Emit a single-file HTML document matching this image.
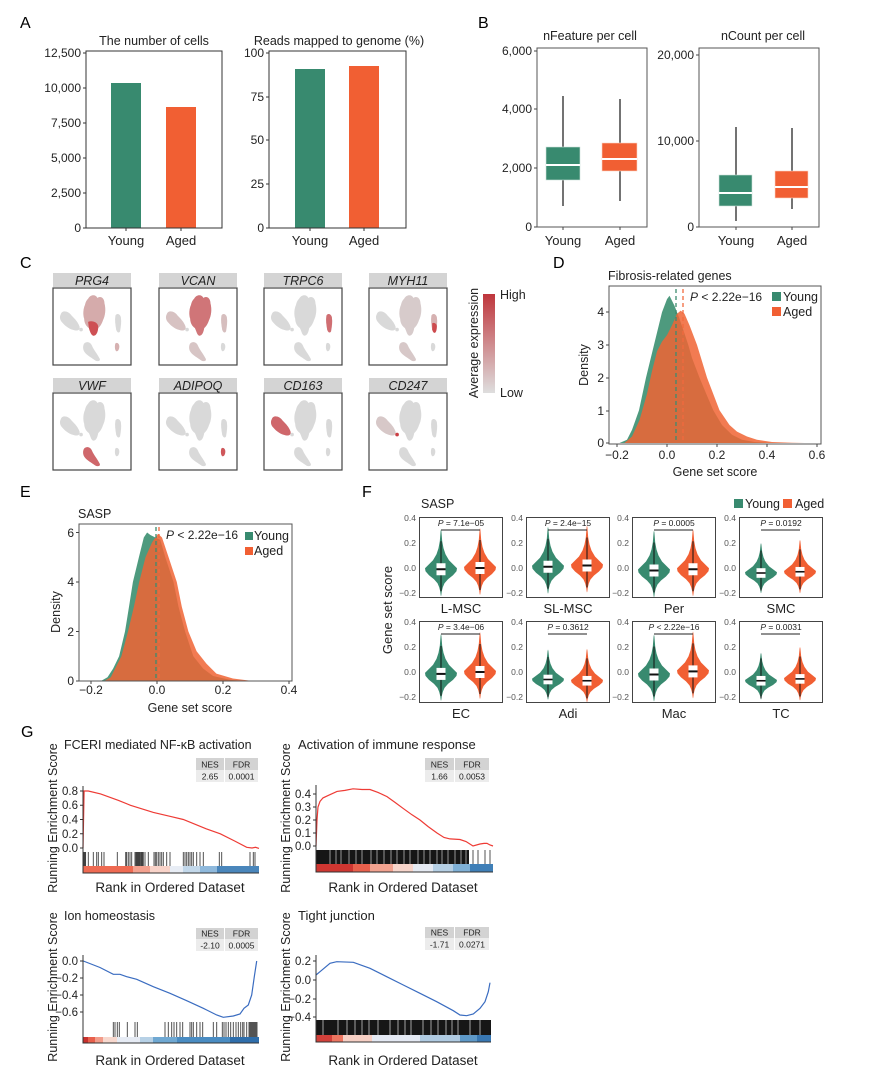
<!DOCTYPE html>
<html><head><meta charset="utf-8"><style>
html,body{margin:0;padding:0;background:#fff;}
svg{display:block;font-family:"Liberation Sans",Arial,sans-serif;}
</style></head><body>
<svg width="869" height="1088" viewBox="0 0 869 1088" xmlns="http://www.w3.org/2000/svg">
<defs>
<path id="cBig" d="M45,14 C48,8 55,8 57,13 C60,10 66,12 66,20 C68,28 67,36 64,42 C62,48 60,50 58,52 C57,58 55,62 52,62 C49,62 48,56 46,52 C43,50 40,46 40,40 C38,34 39,26 41,22 C42,18 43,16 45,14 Z"/>
<path id="cBigLow" d="M45,44 C50,42 57,44 58,50 C58,56 56,62 52,62 C49,62 47,56 46,52 Z"/>
<path id="cLeft" d="M10,34 C12,28 20,30 24,36 C28,40 32,44 34,50 C35,54 32,56 28,55 C22,54 16,50 12,45 C9,42 8,38 10,34 Z"/>
<circle id="cBlob" cx="36" cy="54" r="2.3"/>
<path id="cRight" d="M80,36 C82,32 86,34 87,38 C88,44 87,50 86,56 C85,59 82,58 81,54 C80,48 79,42 80,36 Z"/>
<path id="cRightLow" d="M81,46 C83,44 87,46 87,50 C87,54 86,57 85,58 C83,59 82,57 81,54 Z"/>
<path id="cBot" d="M40,72 C43,69 48,70 50,75 C52,80 57,86 60,92 C61,95 57,96 54,94 C50,91 44,88 41,84 C38,80 38,75 40,72 Z"/>
<path id="cBR" d="M80,72 C82,70 85,72 85,76 C85,80 83,83 81,82 C79,80 79,75 80,72 Z"/>
<g id="umap" fill="#d9d9d9"><use href="#cBig"/><use href="#cLeft"/><use href="#cBlob"/><use href="#cRight"/><use href="#cBot"/><use href="#cBR"/></g>
<linearGradient id="cbar" x1="0" y1="0" x2="0" y2="1"><stop offset="0" stop-color="#bf363c"/><stop offset="1" stop-color="#dedede"/></linearGradient>
<path id="vio" d="M0,-40 L0.4,-38 L1.2,-28 L2.5,-21 L4.5,-15 L8,-9 L12,-5 L16,-1 L15.5,2 L12,6 L7,10 L3.5,14 L1.8,18 L0.8,22 L0.3,26 L0,27 L-0.3,26 L-0.8,22 L-1.8,18 L-3.5,14 L-7,10 L-12,6 L-15.5,2 L-16,-1 L-12,-5 L-8,-9 L-4.5,-15 L-2.5,-21 L-1.2,-28 L-0.4,-38 Z"/>
<g id="bx"><line x1="0" y1="-28" x2="0" y2="22" stroke="#111" stroke-width="1"/><rect x="-4.5" y="-6" width="9" height="12" fill="#fff"/><line x1="-4.5" y1="0" x2="4.5" y2="0" stroke="#111" stroke-width="2"/></g>
</defs>

<!-- ================= A ================= -->
<text x="20" y="28" font-size="16">A</text>
<text x="154" y="45" font-size="12.5" text-anchor="middle" fill="#222">The number of cells</text>
<rect x="111" y="83" width="30" height="145" fill="#388a6f"/>
<rect x="166" y="107" width="30" height="121" fill="#f15f33"/>
<rect x="86" y="51" width="136" height="177" fill="none" stroke="#333"/>
<path d="M83,53H86M83,88H86M83,123H86M83,158H86M83,193H86M83,228H86M126,228V231M181,228V231" stroke="#333"/>
<g font-size="12" text-anchor="end" fill="#222">
<text x="81" y="57">12,500</text><text x="81" y="92">10,000</text><text x="81" y="127">7,500</text><text x="81" y="162">5,000</text><text x="81" y="197">2,500</text><text x="81" y="232">0</text>
</g>
<g font-size="13" text-anchor="middle" fill="#222"><text x="126" y="245">Young</text><text x="181" y="245">Aged</text></g>

<text x="339" y="45" font-size="12.5" text-anchor="middle" fill="#222">Reads mapped to genome (%)</text>
<rect x="295" y="69" width="30" height="159" fill="#388a6f"/>
<rect x="349" y="66" width="30" height="162" fill="#f15f33"/>
<rect x="269" y="51" width="137" height="177" fill="none" stroke="#333"/>
<path d="M266,53H269M266,97H269M266,140H269M266,184H269M266,228H269M310,228V231M364,228V231" stroke="#333"/>
<g font-size="12" text-anchor="end" fill="#222">
<text x="264" y="57">100</text><text x="264" y="101">75</text><text x="264" y="144">50</text><text x="264" y="188">25</text><text x="264" y="232">0</text>
</g>
<g font-size="13" text-anchor="middle" fill="#222"><text x="310" y="245">Young</text><text x="364" y="245">Aged</text></g>

<!-- ================= B ================= -->
<text x="478" y="28" font-size="16">B</text>
<text x="590" y="40" font-size="12.5" text-anchor="middle" fill="#222">nFeature per cell</text>
<line x1="563" y1="96" x2="563" y2="206" stroke="#444" stroke-width="1.5"/>
<rect x="546" y="147" width="34" height="33" fill="#388a6f" stroke="#cfe3da" stroke-width="0.6"/>
<line x1="546" y1="165" x2="580" y2="165" stroke="#fff" stroke-width="2"/>
<line x1="620" y1="99" x2="620" y2="201" stroke="#444" stroke-width="1.5"/>
<rect x="602" y="143" width="35" height="28" fill="#f15f33" stroke="#fbd3c4" stroke-width="0.6"/>
<line x1="602" y1="159" x2="637" y2="159" stroke="#fff" stroke-width="2"/>
<rect x="537" y="48" width="110" height="179" fill="none" stroke="#555"/>
<path d="M534,51H537M534,109H537M534,168H537M534,227H537M563,227V230M620,227V230" stroke="#444"/>
<g font-size="12" text-anchor="end" fill="#222">
<text x="532" y="55">6,000</text><text x="532" y="113">4,000</text><text x="532" y="172">2,000</text><text x="532" y="231">0</text>
</g>
<g font-size="13" text-anchor="middle" fill="#222"><text x="563" y="245">Young</text><text x="620" y="245">Aged</text></g>

<text x="763" y="40" font-size="12.5" text-anchor="middle" fill="#222">nCount per cell</text>
<line x1="736" y1="127" x2="736" y2="221" stroke="#444" stroke-width="1.5"/>
<rect x="719" y="175" width="33" height="31" fill="#388a6f" stroke="#cfe3da" stroke-width="0.6"/>
<line x1="719" y1="193" x2="752" y2="193" stroke="#fff" stroke-width="2"/>
<line x1="792" y1="128" x2="792" y2="209" stroke="#444" stroke-width="1.5"/>
<rect x="775" y="171" width="33" height="27" fill="#f15f33" stroke="#fbd3c4" stroke-width="0.6"/>
<line x1="775" y1="187" x2="808" y2="187" stroke="#fff" stroke-width="2"/>
<rect x="699" y="48" width="120" height="179" fill="none" stroke="#555"/>
<path d="M696,55H699M696,141H699M696,227H699M736,227V230M792,227V230" stroke="#444"/>
<g font-size="12" text-anchor="end" fill="#222">
<text x="694" y="59">20,000</text><text x="694" y="145">10,000</text><text x="694" y="231">0</text>
</g>
<g font-size="13" text-anchor="middle" fill="#222"><text x="736" y="245">Young</text><text x="792" y="245">Aged</text></g>

<!-- ================= C ================= -->
<text x="20" y="268" font-size="16">C</text>
<g fill="#d4d4d4">
<rect x="53" y="273" width="78" height="14"/><rect x="159" y="273" width="78" height="14"/><rect x="264" y="273" width="78" height="14"/><rect x="369" y="273" width="78" height="14"/>
<rect x="53" y="378" width="78" height="14"/><rect x="159" y="378" width="78" height="14"/><rect x="264" y="378" width="78" height="14"/><rect x="369" y="378" width="78" height="14"/>
</g>
<g font-size="12.5" font-style="italic" text-anchor="middle" fill="#222">
<text x="92" y="285">PRG4</text><text x="198" y="285">VCAN</text><text x="303" y="285">TRPC6</text><text x="408" y="285">MYH11</text>
<text x="92" y="390">VWF</text><text x="198" y="390">ADIPOQ</text><text x="303" y="390">CD163</text><text x="408" y="390">CD247</text>
</g>
<!-- PRG4 -->
<g transform="translate(53,288) scale(0.78,0.77)"><use href="#umap"/>
<use href="#cBig" fill="#cf5656" fill-opacity="0.35"/><use href="#cBigLow" fill="#cc3f44" fill-opacity="0.85"/><use href="#cBR" fill="#cf5656" fill-opacity="0.3"/></g>
<!-- VCAN -->
<g transform="translate(159,288) scale(0.78,0.77)"><use href="#umap"/>
<use href="#cBig" fill="#cc4a4f" fill-opacity="0.7"/><use href="#cLeft" fill="#cf5656" fill-opacity="0.18"/><use href="#cBot" fill="#cf5656" fill-opacity="0.15"/><use href="#cRight" fill="#cf5656" fill-opacity="0.2"/></g>
<!-- TRPC6 -->
<g transform="translate(264,288) scale(0.78,0.77)"><use href="#umap"/>
<use href="#cRight" fill="#cc4a4f" fill-opacity="0.75"/></g>
<!-- MYH11 -->
<g transform="translate(369,288) scale(0.78,0.77)"><use href="#umap"/>
<use href="#cBig" fill="#cf5656" fill-opacity="0.1"/><use href="#cRight" fill="#cf5656" fill-opacity="0.3"/><use href="#cRightLow" fill="#cc3f44" fill-opacity="0.9"/><use href="#cBot" fill="#cf5656" fill-opacity="0.12"/></g>
<!-- VWF -->
<g transform="translate(53,393) scale(0.78,0.77)"><use href="#umap"/>
<use href="#cBot" fill="#cc4a4f" fill-opacity="0.8"/></g>
<!-- ADIPOQ -->
<g transform="translate(159,393) scale(0.78,0.77)"><use href="#umap"/>
<use href="#cBR" fill="#cc3f44" fill-opacity="0.85"/></g>
<!-- CD163 -->
<g transform="translate(264,393) scale(0.78,0.77)"><use href="#umap"/>
<use href="#cLeft" fill="#cc4a4f" fill-opacity="0.8"/></g>
<!-- CD247 -->
<g transform="translate(369,393) scale(0.78,0.77)"><use href="#umap"/>
<use href="#cLeft" fill="#cf5656" fill-opacity="0.12"/><use href="#cBlob" fill="#cc3f44"/></g>
<g fill="none" stroke="#444" stroke-width="1.2">
<rect x="53" y="288" width="78" height="77"/><rect x="159" y="288" width="78" height="77"/><rect x="264" y="288" width="78" height="77"/><rect x="369" y="288" width="78" height="77"/>
<rect x="53" y="393" width="78" height="77"/><rect x="159" y="393" width="78" height="77"/><rect x="264" y="393" width="78" height="77"/><rect x="369" y="393" width="78" height="77"/>
</g>
<rect x="483" y="294" width="12" height="99" fill="url(#cbar)"/>
<text x="500" y="299" font-size="12.5" fill="#222">High</text>
<text x="500" y="397" font-size="12.5" fill="#222">Low</text>
<text transform="translate(478,343) rotate(-90)" font-size="12.5" text-anchor="middle" fill="#222">Average expression</text>

<!-- ================= D ================= -->
<text x="553" y="268" font-size="16">D</text>
<text x="608" y="280" font-size="12.5" fill="#222">Fibrosis-related genes</text>
<path d="M619.5,443 L627,439.7 L632,429.9 L639,410.3 L646,377.6 L654,344.9 L662,312.2 L667,299.1 L669.5,295.8 L674.5,305.7 L679.5,318.7 L684.5,333.5 L688.25,344.9 L692,358 L699.5,377.6 L707,395.6 L713.25,410.3 L722,425 L732,434.8 L742,439.7 L754.5,442 L772,443 Z" fill="#4e9a7e"/>
<path d="M624.5,443 L632,436.5 L639.5,420.1 L647,393.9 L652,371.1 L657,351.4 L662,341.6 L667,335.1 L672,325.3 L677,313.8 L680.75,310.6 L684.5,313.8 L689.5,325.3 L697,344.9 L707,377.6 L719.5,410.3 L729.5,425 L737,431.6 L747,436.5 L757,439.7 L772,442 L792,442.7 L804.5,443 Z" fill="#f06434" fill-opacity="0.85"/>
<line x1="683" y1="289" x2="683" y2="443" stroke="#f26a3e" stroke-width="1.3" stroke-dasharray="4,3"/>
<line x1="676" y1="289" x2="676" y2="443" stroke="#3d8b6e" stroke-width="1.3" stroke-dasharray="4,3"/>
<rect x="609" y="286" width="212" height="158" fill="none" stroke="#555"/>
<path d="M606,443H609M606,411H609M606,378H609M606,345H609M606,312H609M617,444V447M667,444V447M717,444V447M767,444V447M817,444V447" stroke="#444"/>
<g font-size="12" text-anchor="end" fill="#222">
<text x="604" y="447">0</text><text x="604" y="415">1</text><text x="604" y="382">2</text><text x="604" y="349">3</text><text x="604" y="316">4</text>
</g>
<g font-size="12" text-anchor="middle" fill="#222">
<text x="617" y="459">−0.2</text><text x="667" y="459">0.0</text><text x="717" y="459">0.2</text><text x="767" y="459">0.4</text><text x="817" y="459">0.6</text>
</g>
<text x="715" y="476" font-size="12.5" text-anchor="middle" fill="#222">Gene set score</text>
<text transform="translate(588,365) rotate(-90)" font-size="12.5" text-anchor="middle" fill="#222">Density</text>
<text x="690" y="301" font-size="12" fill="#222"><tspan font-style="italic">P</tspan> &lt; 2.22e−16</text>
<rect x="772" y="292" width="9" height="9" fill="#388a6f"/><text x="783" y="301" font-size="12.5" fill="#222">Young</text>
<rect x="772" y="307" width="9" height="9" fill="#f15f33"/><text x="783" y="316" font-size="12.5" fill="#222">Aged</text>

<!-- ================= E ================= -->
<text x="20" y="497" font-size="16">E</text>
<text x="78" y="518" font-size="12.5" fill="#222">SASP</text>
<path d="M100.9,681 L107.5,677.3 L113.1,668.6 L119.1,656.3 L125,631.5 L129,606.8 L132.9,582 L138.9,557.3 L143.8,537.5 L147.1,532.5 L150.4,535 L155.4,537.5 L160.3,539.9 L165.3,557.3 L173.5,582 L178.5,606.8 L185.1,631.5 L193.3,656.3 L203.2,668.6 L213.1,676 L229.6,679.8 L242.8,681 Z" fill="#4e9a7e"/>
<path d="M104.2,681 L110.8,677.3 L115.1,668.6 L121.4,656.3 L128,631.5 L133.9,606.8 L139.2,582 L145.5,557.3 L152.1,542.4 L158,533.7 L162,537.5 L168.6,557.3 L176.8,582 L181.8,606.8 L188.4,631.5 L196.6,651.3 L206.5,663.7 L216.4,673.6 L232.9,678.5 L252.7,681 Z" fill="#f06434" fill-opacity="0.85"/>
<line x1="159" y1="527" x2="159" y2="681" stroke="#f26a3e" stroke-width="1.3" stroke-dasharray="4,3"/>
<line x1="156" y1="527" x2="156" y2="681" stroke="#3d8b6e" stroke-width="1.3" stroke-dasharray="4,3"/>
<rect x="79" y="524" width="213" height="157" fill="none" stroke="#555"/>
<path d="M76,681H79M76,631.5H79M76,582H79M76,532.5H79M91,681V684M157,681V684M223,681V684M289,681V684" stroke="#444"/>
<g font-size="12" text-anchor="end" fill="#222">
<text x="74" y="685">0</text><text x="74" y="636">2</text><text x="74" y="586">4</text><text x="74" y="537">6</text>
</g>
<g font-size="12" text-anchor="middle" fill="#222">
<text x="91" y="694">−0.2</text><text x="157" y="694">0.0</text><text x="223" y="694">0.2</text><text x="289" y="694">0.4</text>
</g>
<text x="190" y="712" font-size="12.5" text-anchor="middle" fill="#222">Gene set score</text>
<text transform="translate(60,612) rotate(-90)" font-size="12.5" text-anchor="middle" fill="#222">Density</text>
<text x="166" y="539" font-size="12" fill="#222"><tspan font-style="italic">P</tspan> &lt; 2.22e−16</text>
<rect x="245" y="532" width="8" height="8" fill="#388a6f"/><text x="254" y="540" font-size="12.5" fill="#222">Young</text>
<rect x="245" y="547" width="8" height="8" fill="#f15f33"/><text x="254" y="555" font-size="12.5" fill="#222">Aged</text>

<!-- ================= F ================= -->
<text x="362" y="497" font-size="16">F</text>
<text x="421" y="508" font-size="12.5" fill="#222">SASP</text>
<rect x="734" y="499" width="9" height="9" fill="#388a6f"/><text x="745" y="508" font-size="12.5" fill="#222">Young</text>
<rect x="783" y="499" width="9" height="9" fill="#f15f33"/><text x="795" y="508" font-size="12.5" fill="#222">Aged</text>
<text transform="translate(392,610) rotate(-90)" font-size="13" text-anchor="middle" fill="#222">Gene set score</text>

<!-- row 1 -->
<svg x="419" y="517" width="84" height="81">
<use href="#vio" transform="translate(22,52.25)" fill="#388a6f"/><use href="#vio" transform="translate(61,51)" fill="#f15f33"/>
<use href="#bx" transform="translate(22,52.25)"/><use href="#bx" transform="translate(61,51)"/>
<text x="42" y="9" font-size="8.5" text-anchor="middle" fill="#222"><tspan font-style="italic">P</tspan> = 7.1e−05</text>
<line x1="22" y1="13" x2="61" y2="13" stroke="#222"/>
<rect x="0.5" y="0.5" width="83" height="80" fill="none" stroke="#444"/>
</svg>
<svg x="526" y="517" width="84" height="81">
<use href="#vio" transform="translate(22,49.75)" fill="#388a6f"/><use href="#vio" transform="translate(61,48.5)" fill="#f15f33"/>
<use href="#bx" transform="translate(22,49.75)"/><use href="#bx" transform="translate(61,48.5)"/>
<text x="42" y="9" font-size="8.5" text-anchor="middle" fill="#222"><tspan font-style="italic">P</tspan> = 2.4e−15</text>
<line x1="22" y1="13" x2="61" y2="13" stroke="#222"/>
<rect x="0.5" y="0.5" width="83" height="80" fill="none" stroke="#444"/>
</svg>
<svg x="632" y="517" width="84" height="81">
<use href="#vio" transform="translate(22,53.5)" fill="#388a6f"/><use href="#vio" transform="translate(61,52.25)" fill="#f15f33"/>
<use href="#bx" transform="translate(22,53.5)"/><use href="#bx" transform="translate(61,52.25)"/>
<text x="42" y="9" font-size="8.5" text-anchor="middle" fill="#222"><tspan font-style="italic">P</tspan> = 0.0005</text>
<line x1="22" y1="13" x2="61" y2="13" stroke="#222"/>
<rect x="0.5" y="0.5" width="83" height="80" fill="none" stroke="#444"/>
</svg>
<svg x="739" y="517" width="84" height="81">
<use href="#vio" transform="translate(22,56) scale(1,0.75)" fill="#388a6f"/><use href="#vio" transform="translate(61,54.75) scale(1,0.8)" fill="#f15f33"/>
<use href="#bx" transform="translate(22,56) scale(1,0.8)"/><use href="#bx" transform="translate(61,54.75) scale(1,0.8)"/>
<text x="42" y="9" font-size="8.5" text-anchor="middle" fill="#222"><tspan font-style="italic">P</tspan> = 0.0192</text>
<line x1="22" y1="13" x2="61" y2="13" stroke="#222"/>
<rect x="0.5" y="0.5" width="83" height="80" fill="none" stroke="#444"/>
</svg>
<!-- row 2 -->
<svg x="419" y="621" width="84" height="82">
<use href="#vio" transform="translate(22,52.9)" fill="#388a6f"/><use href="#vio" transform="translate(61,51)" fill="#f15f33"/>
<use href="#bx" transform="translate(22,52.9)"/><use href="#bx" transform="translate(61,51)"/>
<text x="42" y="9" font-size="8.5" text-anchor="middle" fill="#222"><tspan font-style="italic">P</tspan> = 3.4e−06</text>
<line x1="22" y1="13" x2="61" y2="13" stroke="#222"/>
<rect x="0.5" y="0.5" width="83" height="81" fill="none" stroke="#444"/>
</svg>
<svg x="526" y="621" width="84" height="82">
<use href="#vio" transform="translate(22,58.5) scale(1,0.75)" fill="#388a6f"/><use href="#vio" transform="translate(61,59.75) scale(1,0.8)" fill="#f15f33"/>
<use href="#bx" transform="translate(22,58.5) scale(1,0.8)"/><use href="#bx" transform="translate(61,59.75) scale(1,0.8)"/>
<text x="42" y="9" font-size="8.5" text-anchor="middle" fill="#222"><tspan font-style="italic">P</tspan> = 0.3612</text>
<line x1="22" y1="13" x2="61" y2="13" stroke="#222"/>
<rect x="0.5" y="0.5" width="83" height="81" fill="none" stroke="#444"/>
</svg>
<svg x="632" y="621" width="84" height="82">
<use href="#vio" transform="translate(22,53.5)" fill="#388a6f"/><use href="#vio" transform="translate(61,50.4)" fill="#f15f33"/>
<use href="#bx" transform="translate(22,53.5)"/><use href="#bx" transform="translate(61,50.4)"/>
<text x="42" y="9" font-size="8.5" text-anchor="middle" fill="#222"><tspan font-style="italic">P</tspan> &lt; 2.22e−16</text>
<line x1="22" y1="13" x2="61" y2="13" stroke="#222"/>
<rect x="0.5" y="0.5" width="83" height="81" fill="none" stroke="#444"/>
</svg>
<svg x="739" y="621" width="84" height="82">
<use href="#vio" transform="translate(22,59.75) scale(1,0.7)" fill="#388a6f"/><use href="#vio" transform="translate(61,57.9) scale(1,0.8)" fill="#f15f33"/>
<use href="#bx" transform="translate(22,59.75) scale(1,0.8)"/><use href="#bx" transform="translate(61,57.9) scale(1,0.8)"/>
<text x="42" y="9" font-size="8.5" text-anchor="middle" fill="#222"><tspan font-style="italic">P</tspan> = 0.0031</text>
<line x1="22" y1="13" x2="61" y2="13" stroke="#222"/>
<rect x="0.5" y="0.5" width="83" height="81" fill="none" stroke="#444"/>
</svg>
<g font-size="8.5" text-anchor="end" fill="#555">
<text x="416" y="521">0.4</text><text x="416" y="546">0.2</text><text x="416" y="571">0.0</text><text x="416" y="596">−0.2</text>
<text x="523" y="521">0.4</text><text x="523" y="546">0.2</text><text x="523" y="571">0.0</text><text x="523" y="596">−0.2</text>
<text x="629" y="521">0.4</text><text x="629" y="546">0.2</text><text x="629" y="571">0.0</text><text x="629" y="596">−0.2</text>
<text x="736" y="521">0.4</text><text x="736" y="546">0.2</text><text x="736" y="571">0.0</text><text x="736" y="596">−0.2</text>
<text x="416" y="625">0.4</text><text x="416" y="650">0.2</text><text x="416" y="675">0.0</text><text x="416" y="700">−0.2</text>
<text x="523" y="625">0.4</text><text x="523" y="650">0.2</text><text x="523" y="675">0.0</text><text x="523" y="700">−0.2</text>
<text x="629" y="625">0.4</text><text x="629" y="650">0.2</text><text x="629" y="675">0.0</text><text x="629" y="700">−0.2</text>
<text x="736" y="625">0.4</text><text x="736" y="650">0.2</text><text x="736" y="675">0.0</text><text x="736" y="700">−0.2</text>
</g>
<g font-size="13" text-anchor="middle" fill="#222">
<text x="461" y="613">L-MSC</text><text x="568" y="613">SL-MSC</text><text x="674" y="613">Per</text><text x="781" y="613">SMC</text>
<text x="461" y="718">EC</text><text x="568" y="718">Adi</text><text x="674" y="718">Mac</text><text x="781" y="718">TC</text>
</g>

<!-- ================= G ================= -->
<text x="21" y="737" font-size="16">G</text>

<!-- G1 -->
<text x="64" y="749" font-size="12.5" fill="#222">FCERI mediated NF-κB activation</text>
<rect x="196" y="758" width="28" height="12" fill="#d3d3d3"/><rect x="225" y="758" width="33" height="12" fill="#d3d3d3"/>
<rect x="196" y="770" width="28" height="12" fill="#ececec"/><rect x="225" y="770" width="33" height="12" fill="#ececec"/>
<g font-size="8.5" text-anchor="middle" fill="#222"><text x="210" y="767.5">NES</text><text x="241.5" y="767.5">FDR</text><text x="210" y="779.5">2.65</text><text x="241.5" y="779.5">0.0001</text></g>
<path d="M83,848 L84.1,791 L88.3,791 L100.6,793.9 L118.2,800.3 L130.5,805.3 L153.4,812.4 L171,816.6 L183.3,819.5 L206.2,828.8 L220.3,833.8 L234.4,840.9 L246.7,847.3 L252,848 L255.5,847.3 L259,848.4" fill="none" stroke="#ee3b35" stroke-width="1.2"/>
<path d="M83,852V866M83.7,852V866M84.4,852V866M85,852V866M85.6,852V866M88.3,852V866M93.3,852V866M96.7,852V866M98.3,852V866M101.7,852V866M104,852V866M117.3,852V866M125.7,852V866M126.7,852V866M128.3,852V866M130,852V866M131.7,852V866M135,852V866M136,852V866M136.7,852V866M137.5,852V866M138.3,852V866M139.2,852V866M140,852V866M141,852V866M141.7,852V866M142.5,852V866M143.3,852V866M145,852V866M148.3,852V866M154,852V866M155.3,852V866M156.7,852V866M158.3,852V866M160,852V866M161.7,852V866M163.3,852V866M166.7,852V866M170,852V866M183.3,852V866M185,852V866M186.7,852V866M188.3,852V866M190,852V866M191.7,852V866M193.3,852V866M196.7,852V866M200,852V866M203.3,852V866M219.3,852V866M221.7,852V866M250,852V866M253.3,852V866M255,852V866" stroke="#111" stroke-opacity="0.8" stroke-width="0.9"/>
<rect x="83" y="866" width="50" height="7" fill="#ee6a52"/><rect x="133" y="866" width="17" height="7" fill="#f3a18f"/><rect x="150" y="866" width="20" height="7" fill="#f8d3c9"/><rect x="170" y="866" width="13" height="7" fill="#e8edf5"/><rect x="183" y="866" width="17" height="7" fill="#c3d8ea"/><rect x="200" y="866" width="17" height="7" fill="#8fb9dc"/><rect x="217" y="866" width="42" height="7" fill="#4a86bb"/>
<path d="M83,786V873H259" fill="none" stroke="#333" stroke-width="1"/>
<path d="M80,791H83M80,805.3H83M80,819.5H83M80,833.8H83M80,848H83" stroke="#333"/>
<g font-size="11.5" text-anchor="end" fill="#222"><text x="78" y="795">0.8</text><text x="78" y="809">0.6</text><text x="78" y="823.5">0.4</text><text x="78" y="838">0.2</text><text x="78" y="852">0.0</text></g>
<text transform="translate(57,818) rotate(-90)" font-size="12.5" text-anchor="middle" fill="#222">Running Enrichment Score</text>
<text x="170" y="892" font-size="13.5" text-anchor="middle" fill="#222">Rank in Ordered Dataset</text>

<!-- G2 -->
<text x="298" y="749" font-size="13" fill="#222">Activation of immune response</text>
<rect x="425" y="758" width="29" height="12" fill="#d3d3d3"/><rect x="455" y="758" width="34" height="12" fill="#d3d3d3"/>
<rect x="425" y="770" width="29" height="12" fill="#ececec"/><rect x="455" y="770" width="34" height="12" fill="#ececec"/>
<g font-size="8.5" text-anchor="middle" fill="#222"><text x="439.5" y="767.5">NES</text><text x="472" y="767.5">FDR</text><text x="439.5" y="779.5">1.66</text><text x="472" y="779.5">0.0053</text></g>
<path d="M316,846 L317,820 L318,807 L320,801.4 L323,797.9 L328,795.6 L337,791.4 L345,790.4 L353,788.8 L362,789.5 L370,789.5 L378,792.4 L387,796.6 L395,802.4 L403,808.3 L412,814.8 L420,820 L428,826.5 L437,833 L444,837.5 L450,838.9 L460,839.5 L466,841.5 L473,846 L480,844 L484,843.4 L487,843.4 L490,845 L493,846" fill="none" stroke="#ee3b35" stroke-width="1.2"/>
<rect x="316" y="850" width="153" height="14" fill="#161616"/>
<path d="M330,850V864M336,850V864M341,850V864M349,850V864M356,850V864M362,850V864M371,850V864M377,850V864M384,850V864M391,850V864M397,850V864M404,850V864M410,850V864M418,850V864M424,850V864M430,850V864M437,850V864M442,850V864M448,850V864M455,850V864M461,850V864M466,850V864" stroke="#fff" stroke-opacity="0.55" stroke-width="1"/>
<path d="M473,850V864M478,850V864M485,850V864M490,850V864" stroke="#111" stroke-opacity="0.8" stroke-width="0.9"/>
<rect x="316" y="864" width="37" height="8" fill="#cf3631"/><rect x="353" y="864" width="17" height="8" fill="#e8604c"/><rect x="370" y="864" width="23" height="8" fill="#f2a28f"/><rect x="393" y="864" width="20" height="8" fill="#f7d5cb"/><rect x="413" y="864" width="20" height="8" fill="#e5eaf2"/><rect x="433" y="864" width="20" height="8" fill="#b5cfe4"/><rect x="453" y="864" width="17" height="8" fill="#7fb0d6"/><rect x="470" y="864" width="23" height="8" fill="#3f7fb7"/>
<path d="M316,785V872H493" fill="none" stroke="#333" stroke-width="1"/>
<path d="M313,794H316M313,807H316M313,820H316M313,833H316M313,846H316" stroke="#333"/>
<g font-size="11.5" text-anchor="end" fill="#222"><text x="311" y="798">0.4</text><text x="311" y="811">0.3</text><text x="311" y="824">0.2</text><text x="311" y="837">0.1</text><text x="311" y="850">0.0</text></g>
<text transform="translate(290,818) rotate(-90)" font-size="12.5" text-anchor="middle" fill="#222">Running Enrichment Score</text>
<text x="403" y="892" font-size="13.5" text-anchor="middle" fill="#222">Rank in Ordered Dataset</text>

<!-- G3 -->
<text x="64" y="920" font-size="12.5" fill="#222">Ion homeostasis</text>
<rect x="196" y="928" width="28" height="11" fill="#d3d3d3"/><rect x="225" y="928" width="33" height="11" fill="#d3d3d3"/>
<rect x="196" y="939" width="28" height="12" fill="#ececec"/><rect x="225" y="939" width="33" height="12" fill="#ececec"/>
<g font-size="8.5" text-anchor="middle" fill="#222"><text x="210" y="936.5">NES</text><text x="241.5" y="936.5">FDR</text><text x="210" y="948.5">-2.10</text><text x="241.5" y="948.5">0.0005</text></g>
<path d="M83.3,961 L100,967.5 L113.3,974.3 L120,974.3 L126.7,976.7 L136.7,979.3 L153.3,986.7 L170,993.3 L186.7,1000.7 L203.3,1008.3 L206.7,1010 L216.7,1015 L223.3,1017.3 L233.3,1016 L240,1014 L244,1008.3 L248.3,1005 L251.7,995 L254.3,976.7 L256.7,961" fill="none" stroke="#3a6cc0" stroke-width="1.2"/>
<path d="M113.3,1022V1037M115,1022V1037M117.3,1022V1037M119.3,1022V1037M127.3,1022V1037M135,1022V1037M137.3,1022V1037M165,1022V1037M168.3,1022V1037M171.7,1022V1037M174,1022V1037M176.7,1022V1037M180,1022V1037M182.7,1022V1037M190,1022V1037M191.7,1022V1037M193.3,1022V1037M196.7,1022V1037M200,1022V1037M202.7,1022V1037M213.3,1022V1037M216.7,1022V1037M222.3,1022V1037M224,1022V1037M226,1022V1037M228.3,1022V1037M230.7,1022V1037M233.3,1022V1037M236,1022V1037M238.3,1022V1037M240.7,1022V1037M242.7,1022V1037M244,1022V1037M246.7,1022V1037M249,1022V1037M250,1022V1037M251,1022V1037M252,1022V1037M253,1022V1037M254,1022V1037M255,1022V1037M256,1022V1037M257,1022V1037" stroke="#111" stroke-opacity="0.8" stroke-width="0.9"/>
<rect x="83" y="1037" width="5" height="6" fill="#c8312d"/><rect x="88" y="1037" width="7" height="6" fill="#e8604c"/><rect x="95" y="1037" width="8" height="6" fill="#f29c8a"/><rect x="103" y="1037" width="14" height="6" fill="#f7d8ce"/><rect x="117" y="1037" width="23" height="6" fill="#e6ebf4"/><rect x="140" y="1037" width="13" height="6" fill="#b7d1e6"/><rect x="153" y="1037" width="24" height="6" fill="#6fa8d2"/><rect x="177" y="1037" width="53" height="6" fill="#4a8cc2"/><rect x="230" y="1037" width="29" height="6" fill="#2f6eab"/>
<path d="M83,955V1043H259" fill="none" stroke="#333" stroke-width="1"/>
<path d="M80,961H83M80,978H83M80,995H83M80,1012H83" stroke="#333"/>
<g font-size="11.5" text-anchor="end" fill="#222"><text x="78" y="965">0.0</text><text x="78" y="982">−0.2</text><text x="78" y="999">−0.4</text><text x="78" y="1016">−0.6</text></g>
<text transform="translate(57,987) rotate(-90)" font-size="12.5" text-anchor="middle" fill="#222">Running Enrichment Score</text>
<text x="170" y="1065" font-size="13.5" text-anchor="middle" fill="#222">Rank in Ordered Dataset</text>

<!-- G4 -->
<text x="298" y="920" font-size="13" fill="#222">Tight junction</text>
<rect x="425" y="927" width="29" height="11" fill="#d3d3d3"/><rect x="455" y="927" width="34" height="11" fill="#d3d3d3"/>
<rect x="425" y="938" width="29" height="12" fill="#ececec"/><rect x="455" y="938" width="34" height="12" fill="#ececec"/>
<g font-size="8.5" text-anchor="middle" fill="#222"><text x="439.5" y="935.5">NES</text><text x="472" y="935.5">FDR</text><text x="439.5" y="947.5">-1.71</text><text x="472" y="947.5">0.0271</text></g>
<path d="M316,975 L320,971.7 L330,963.3 L336.7,961.7 L353.3,962.3 L370,968.3 L386.7,976.7 L403.3,985 L420,993.3 L436.7,1001.7 L453.3,1010.7 L460,1015 L466.7,1015.7 L473.3,1014 L480,1008.3 L485,1001.7 L488.3,991.7 L490,982.7" fill="none" stroke="#3a6cc0" stroke-width="1.2"/>
<rect x="316" y="1020" width="175" height="15" fill="#161616"/>
<path d="M323,1020V1035M338,1020V1035M347,1020V1035M355,1020V1035M362,1020V1035M369,1020V1035M378,1020V1035M390,1020V1035M398,1020V1035M405,1020V1035M411,1020V1035M423,1020V1035M431,1020V1035M438,1020V1035M446,1020V1035M452,1020V1035M458,1020V1035M470,1020V1035M480,1020V1035" stroke="#fff" stroke-opacity="0.5" stroke-width="1.2"/>
<rect x="316" y="1035" width="16" height="7" fill="#d2403a"/><rect x="332" y="1035" width="11" height="7" fill="#ec7560"/><rect x="343" y="1035" width="29" height="7" fill="#f6cfc4"/><rect x="372" y="1035" width="48" height="7" fill="#e4e9f3"/><rect x="420" y="1035" width="40" height="7" fill="#b0cbe2"/><rect x="460" y="1035" width="17" height="7" fill="#5e99c8"/><rect x="477" y="1035" width="14" height="7" fill="#3877b2"/>
<path d="M316,955V1042H491" fill="none" stroke="#333" stroke-width="1"/>
<path d="M313,961H316M313,980H316M313,999H316M313,1017H316" stroke="#333"/>
<g font-size="11.5" text-anchor="end" fill="#222"><text x="311" y="965">0.2</text><text x="311" y="984">0.0</text><text x="311" y="1003">−0.2</text><text x="311" y="1021">−0.4</text></g>
<text transform="translate(290,987) rotate(-90)" font-size="12.5" text-anchor="middle" fill="#222">Running Enrichment Score</text>
<text x="403" y="1065" font-size="13.5" text-anchor="middle" fill="#222">Rank in Ordered Dataset</text>
</svg>
</body></html>
